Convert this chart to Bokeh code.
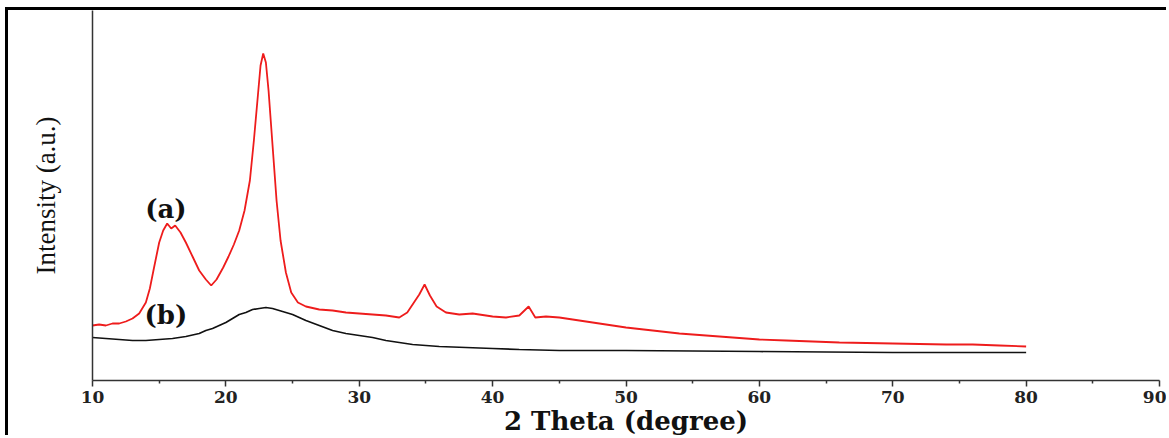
from bokeh.plotting import figure
from bokeh.models import Range1d, FixedTicker, Label
from bokeh.embed import file_html
from bokeh.resources import INLINE

# ---- data (intensity in arbitrary units) ----
red_x = [10, 10.5, 11, 11.5, 12, 12.5, 13, 13.5, 14, 14.3, 14.6, 15, 15.3, 15.6, 15.9,
         16.2, 16.6, 17, 17.5, 18, 18.5, 18.9, 19.3, 19.8, 20.2, 20.6, 21, 21.4, 21.8,
         22.1, 22.4, 22.6, 22.8, 23.0, 23.2, 23.5, 23.8, 24.1, 24.5, 24.9, 25.4, 26, 27,
         28, 29, 30, 31, 32, 33, 33.6, 34.1, 34.5, 34.9, 35.3, 35.8, 36.5, 37.5, 38.5,
         40, 41, 42, 42.7, 43.2, 44, 45, 46, 47, 48, 49, 50, 52, 54, 56, 58, 60, 62, 64,
         66, 68, 70, 72, 74, 76, 78, 80]
red_y = [55, 56, 55, 57, 57, 59, 62, 67, 78, 92, 112, 138, 150, 157, 152,
         155, 148, 138, 124, 110, 101, 95, 101, 113, 124, 136, 150, 170, 200,
         240, 285, 315, 327, 318, 290, 235, 180, 140, 108, 88, 78, 74, 71,
         70, 68, 67, 66, 65, 63, 68, 78, 86, 96, 85, 74, 68, 66, 67,
         64, 63, 65, 74, 63, 64, 63, 61, 59, 57, 55, 53, 50, 47, 45, 43, 41, 40, 39,
         38, 37.5, 37, 36.5, 36, 36, 35, 34]

black_x = [10, 11, 12, 13, 14, 15, 16, 17, 18, 18.5, 19, 19.5, 20, 20.5, 21, 21.5, 22,
           22.5, 23, 23.5, 24, 24.5, 25, 25.5, 26, 27, 28, 29, 30, 31, 32, 33, 34, 35,
           36, 38, 40, 42, 45, 48, 50, 55, 60, 65, 70, 75, 80]
black_y = [43, 42, 41, 40, 40, 41, 42, 44, 47, 50, 52, 55, 58, 62, 66, 68, 71,
           72, 73, 72, 70, 68, 66, 63, 60, 55, 50, 47, 45, 43, 40, 38, 36, 35,
           34, 33, 32, 31, 30, 30, 30, 29.5, 29, 28.5, 28, 28, 28]

x_ticks = [10, 20, 30, 40, 50, 60, 70, 80, 90]
x_minor = [15, 25, 35, 45, 55, 65, 75, 85]
series_labels = ["(a)", "(b)"]
label_x = [15.5, 15.5]
label_y = [172, 66]

p = figure(width=1161, height=428, output_backend="svg", toolbar_location=None,
           x_range=Range1d(10, 90), y_range=Range1d(0, 370),
           min_border_left=84, min_border_right=10, min_border_top=0,
           min_border_bottom=56)
p.styles = {"margin-left": "5px", "margin-top": "7px",
            "border-left": "3px solid black", "border-top": "3px solid black"}
p.xgrid.visible = False
p.ygrid.visible = False
p.outline_line_color = None
p.background_fill_color = "white"
p.border_fill_color = "white"

p.line(red_x, red_y, line_color="#ee1c1c", line_width=1.8)
p.line(black_x, black_y, line_color="#111111", line_width=1.7)

xa = p.xaxis[0]
xa.ticker = FixedTicker(ticks=x_ticks, minor_ticks=x_minor)
xa.major_tick_in = 0
xa.major_tick_out = 6
xa.minor_tick_in = 0
xa.minor_tick_out = 3
xa.major_tick_line_width = 1.5
xa.minor_tick_line_width = 1.5
xa.axis_line_width = 1.5
xa.axis_line_color = "#333333"
xa.major_tick_line_color = "#333333"
xa.minor_tick_line_color = "#333333"
xa.major_label_text_font = "DejaVu Serif"
xa.major_label_text_font_style = "bold"
xa.major_label_text_font_size = "17px"
xa.major_label_text_color = "#222222"
xa.major_label_standoff = 4
xa.axis_label = "2 Theta (degree)"
xa.axis_label_text_font = "DejaVu Serif"
xa.axis_label_text_font_style = "bold"
xa.axis_label_text_font_size = "26px"
xa.axis_label_text_color = "#111111"
xa.axis_label_standoff = 0

ya = p.yaxis[0]
ya.ticker = FixedTicker(ticks=[])
ya.major_label_text_font_size = "0px"
ya.major_tick_line_color = None
ya.minor_tick_line_color = None
ya.axis_line_width = 1.5
ya.axis_line_color = "#333333"
ya.axis_label = "Intensity (a.u.)"
ya.axis_label_text_font = "Liberation Serif"
ya.axis_label_text_font_style = "normal"
ya.axis_label_text_font_size = "27px"
ya.axis_label_text_color = "#111111"
ya.axis_label_standoff = 32

for t, lx, ly in zip(series_labels, label_x, label_y):
    p.add_layout(Label(x=lx, y=ly, text=t, text_align="center",
                       text_baseline="middle", text_font="DejaVu Serif",
                       text_font_style="bold", text_font_size="26px",
                       text_color="#111111"))

open("out.html", "w").write(file_html(p, INLINE))
